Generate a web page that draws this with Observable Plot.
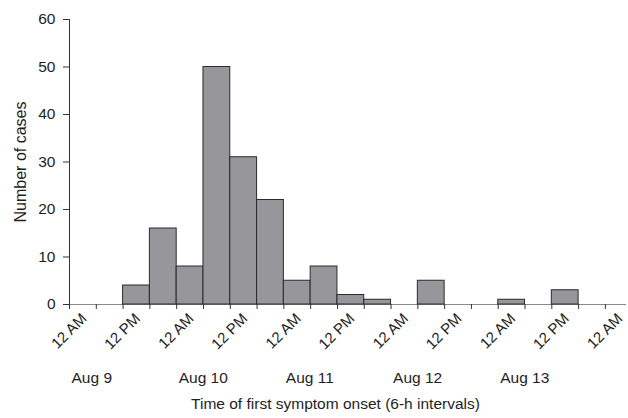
<!DOCTYPE html>
<html><head><meta charset="utf-8">
<script src="https://cdn.jsdelivr.net/npm/d3@7"></script>
<script src="https://cdn.jsdelivr.net/npm/@observablehq/plot@0.6"></script>
<style>body{margin:0;background:#fff}</style>
</head><body><div id="chart"></div>
<script>
// Bin start, in hours after Aug 9, 12 AM (6-h intervals)
const binStartHours = [12, 18, 24, 30, 36, 42, 48, 54, 60, 66, 78, 96, 108];
const cases = [4, 16, 8, 50, 31, 22, 5, 8, 2, 1, 5, 1, 3];
const binWidthHours = 6;

const minorTickHours = [0, 6, 12, 18, 24, 30, 36, 42, 48, 54, 60, 66, 72, 78, 84, 90, 96, 102, 108, 114, 120];
const labelTickHours = [0, 12, 24, 36, 48, 60, 72, 84, 96, 108, 120];
const labelTickText = ["12 AM", "12 PM", "12 AM", "12 PM", "12 AM", "12 PM", "12 AM", "12 PM", "12 AM", "12 PM", "12 AM"];
const dayStartHours = [0, 24, 48, 72, 96];
const dayLabels = ["Aug 9", "Aug 10", "Aug 11", "Aug 12", "Aug 13"];
const yTicks = [0, 10, 20, 30, 40, 50, 60];
const xTitle = "Time of first symptom onset (6-h intervals)";
const yTitle = "Number of cases";

const bins = binStartHours.map((h, i) => ({start: h, end: h + binWidthHours, cases: cases[i]}));

const chart = Plot.plot({
  width: 628,
  height: 418,
  marginLeft: 69,
  marginRight: 3,
  marginTop: 19,
  marginBottom: 114,
  x: {domain: [0, 124.5], axis: null},
  y: {domain: [0, 60], axis: null},
  style: {fontFamily: "'Liberation Sans', Arial, sans-serif", fontSize: "15px", color: "#1e1e1e", background: "#fff"},
  marks: [
    Plot.frame({anchor: "bottom", stroke: "#8a8a8a"}),
    Plot.rectY(bins, {x1: "start", x2: "end", y: "cases", fill: "#97979b", stroke: "#2a2a2a", strokeWidth: 1, inset: 0}),
    Plot.frame({anchor: "left", stroke: "#333"}),
    Plot.axisY({ticks: yTicks, tickSize: 6, tickPadding: 8, label: null, fontSize: 15.5, stroke: "#333", fill: "#1e1e1e"}),
    Plot.axisX({ticks: minorTickHours, tickSize: 5, tickFormat: () => "", label: null, stroke: "#333"}),
    Plot.text(labelTickHours, {x: d => d, frameAnchor: "bottom", text: (d, i) => labelTickText[i], rotate: -45, textAnchor: "end", lineAnchor: "bottom", dx: 18, dy: 15, fontSize: 15, fill: "#1e1e1e"}),
    Plot.text(dayStartHours, {x: d => d, frameAnchor: "bottom", text: (d, i) => dayLabels[i], textAnchor: "start", lineAnchor: "bottom", dx: 2, dy: 78, fontSize: 15.5, fill: "#1e1e1e"}),
    Plot.text([xTitle], {frameAnchor: "bottom", textAnchor: "middle", dx: -12, dy: 104, lineAnchor: "bottom", fontSize: 15.5, fill: "#1e1e1e"}),
    Plot.text([yTitle], {frameAnchor: "left", textAnchor: "middle", rotate: -90, dx: -44, lineAnchor: "bottom", fontSize: 16, fill: "#1e1e1e"})
  ]
});
document.getElementById("chart").append(chart);
</script>
</body></html>
